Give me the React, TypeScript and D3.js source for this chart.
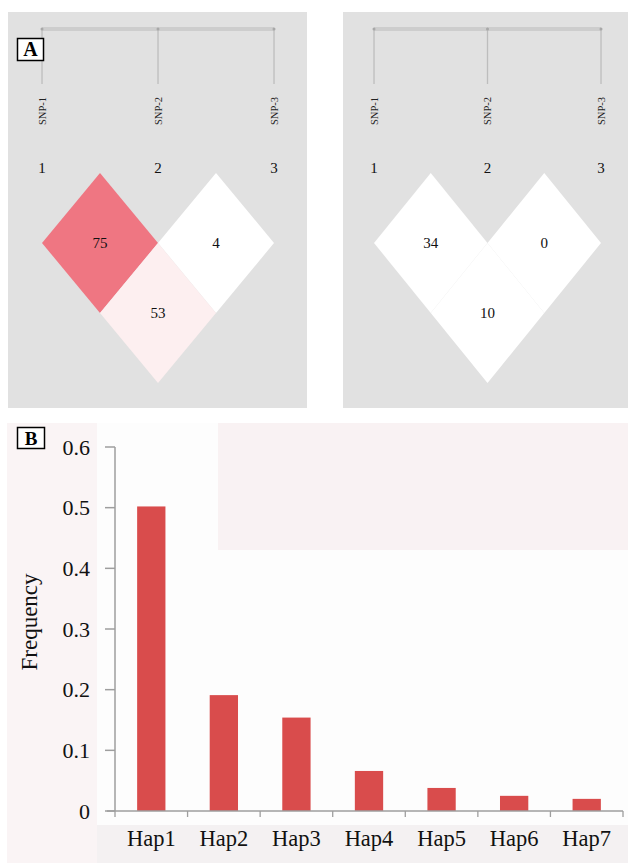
import React from "react";
import * as d3 from "d3";

const snps = ["SNP-1", "SNP-2", "SNP-3"];
const snpNumbers = ["1", "2", "3"];
// LD cells: [i, j] pairs and their D' values
const pairs: [number, number][] = [[0, 1], [1, 2], [0, 2]];
const ldLeft = [75, 4, 53];
const ldRight = [34, 0, 10];

const haplotypes = ["Hap1", "Hap2", "Hap3", "Hap4", "Hap5", "Hap6", "Hap7"];
const frequencies = [0.502, 0.191, 0.154, 0.066, 0.038, 0.025, 0.02];
const yTicks = [0, 0.1, 0.2, 0.3, 0.4, 0.5, 0.6];

const FONT = "Liberation Serif, Times New Roman, Times, serif";

function LDPanel({ x0, x1, px0, px1, values }: { x0: number; x1: number; px0: number; px1: number; values: number[] }) {
  const xs = d3.scalePoint<string>().domain(snps).range([x0, x1]);
  const topY = 173;
  const halfH = 70;
  const step = (x1 - x0) / (snps.length - 1);
  const halfW = step / 2;
  const color = d3.scaleLinear<string>().domain([50, 75]).range(["#ffffff", "#ef7682"]).clamp(true);
  return (
    <g>
      <rect x={px0} y={12} width={px1 - px0} height={396} fill="#e1e1e1" />
      <line x1={xs(snps[0])} x2={xs(snps[snps.length - 1])} y1={29} y2={29} stroke="#cdcdcd" strokeWidth={4} />
      {snps.map((s) => (
        <g key={s}>
          <line x1={xs(s)} x2={xs(s)} y1={28} y2={84} stroke="#bdbdbd" strokeWidth={1.3} />
          <circle cx={xs(s)} cy={29} r={1.5} fill="#a8a8a8" />
          <text
            transform={`translate(${(xs(s) as number) + 3.5},125) rotate(-90)`}
            fontFamily={FONT}
            fontSize={10.5}
            fill="#222"
          >
            {s}
          </text>
        </g>
      ))}
      {snps.map((s, i) => (
        <text key={"n" + s} x={xs(s)} y={173} textAnchor="middle" fontFamily={FONT} fontSize={15} fill="#111">
          {snpNumbers[i]}
        </text>
      ))}
      {pairs.map(([i, j], k) => {
        const cx = ((xs(snps[i]) as number) + (xs(snps[j]) as number)) / 2;
        const cy = topY + (j - i) * halfH;
        const pts = [
          [cx, cy - halfH],
          [cx + halfW, cy],
          [cx, cy + halfH],
          [cx - halfW, cy],
        ];
        return <polygon key={k} points={pts.map((p) => p.join(",")).join(" ")} fill={color(values[k])} />;
      })}
      {pairs.map(([i, j], k) => {
        const cx = ((xs(snps[i]) as number) + (xs(snps[j]) as number)) / 2;
        const cy = topY + (j - i) * halfH;
        return (
          <text key={"t" + k} x={cx} y={cy + 5} textAnchor="middle" fontFamily={FONT} fontSize={15} fill="#111">
            {values[k]}
          </text>
        );
      })}
    </g>
  );
}

export default function App() {
  const x = d3.scaleBand<string>().domain(haplotypes).range([115, 623]).paddingInner(0.61).paddingOuter(0.305);
  const xb = d3.scaleBand<string>().domain(haplotypes).range([115, 623]).padding(0);
  const y = d3.scaleLinear().domain([0, 0.6]).range([811, 447]);
  const boundaries = haplotypes.map((h) => xb(h) as number).concat([623]);

  return (
    <svg width={628} height={864} style={{ position: "absolute", left: 0, top: 0, background: "#fff" }}>
      <LDPanel x0={42} x1={274} px0={8} px1={307} values={ldLeft} />
      <LDPanel x0={374} x1={601} px0={343} px1={628} values={ldRight} />

      <rect x={17.5} y={38.5} width={26} height={22} fill="#fff" stroke="#000" strokeWidth={1.5} />
      <text x={30.5} y={56} textAnchor="middle" fontFamily={FONT} fontWeight="bold" fontSize={20}>
        A
      </text>

      <rect x={7} y={423} width={621} height={440} fill="#faf4f5" />
      <rect x={97} y={423} width={531} height={402} fill="#fdfdfd" />
      <rect x={218} y={423} width={410} height={127} fill="#f9f2f3" />
      <rect x={97} y={825} width={531} height={38} fill="#f4f1f2" />

      <rect x={17.5} y={427.5} width={27} height={21} fill="#fff" stroke="#000" strokeWidth={1.5} />
      <text x={31} y={445} textAnchor="middle" fontFamily={FONT} fontWeight="bold" fontSize={19}>
        B
      </text>

      {haplotypes.map((h, i) => (
        <rect
          key={h}
          x={x(h)}
          y={y(frequencies[i])}
          width={x.bandwidth()}
          height={y(0) - y(frequencies[i])}
          fill="#d94c4c"
        />
      ))}

      <line x1={115} x2={115} y1={y(0.6)} y2={y(0)} stroke="#9e9e9e" strokeWidth={1.5} />
      {yTicks.map((t) => (
        <g key={t}>
          <line x1={105} x2={115} y1={y(t)} y2={y(t)} stroke="#9e9e9e" strokeWidth={1.5} />
          <text x={90} y={y(t) + 7.5} textAnchor="end" fontFamily={FONT} fontSize={22} fill="#111">
            {t === 0 ? "0" : t.toFixed(1)}
          </text>
        </g>
      ))}
      <text transform={`translate(37,622) rotate(-90)`} textAnchor="middle" fontFamily={FONT} fontSize={23} fill="#111">
        Frequency
      </text>

      <line x1={107} x2={623} y1={y(0)} y2={y(0)} stroke="#9e9e9e" strokeWidth={1.5} />
      {boundaries.map((b, i) => (
        <line key={i} x1={b} x2={b} y1={y(0)} y2={y(0) + 6} stroke="#9e9e9e" strokeWidth={1.3} />
      ))}
      {haplotypes.map((h) => (
        <text
          key={"l" + h}
          x={(xb(h) as number) + xb.bandwidth() / 2}
          y={846}
          textAnchor="middle"
          fontFamily={FONT}
          fontSize={22.5}
          fill="#111"
        >
          {h}
        </text>
      ))}
    </svg>
  );
}
